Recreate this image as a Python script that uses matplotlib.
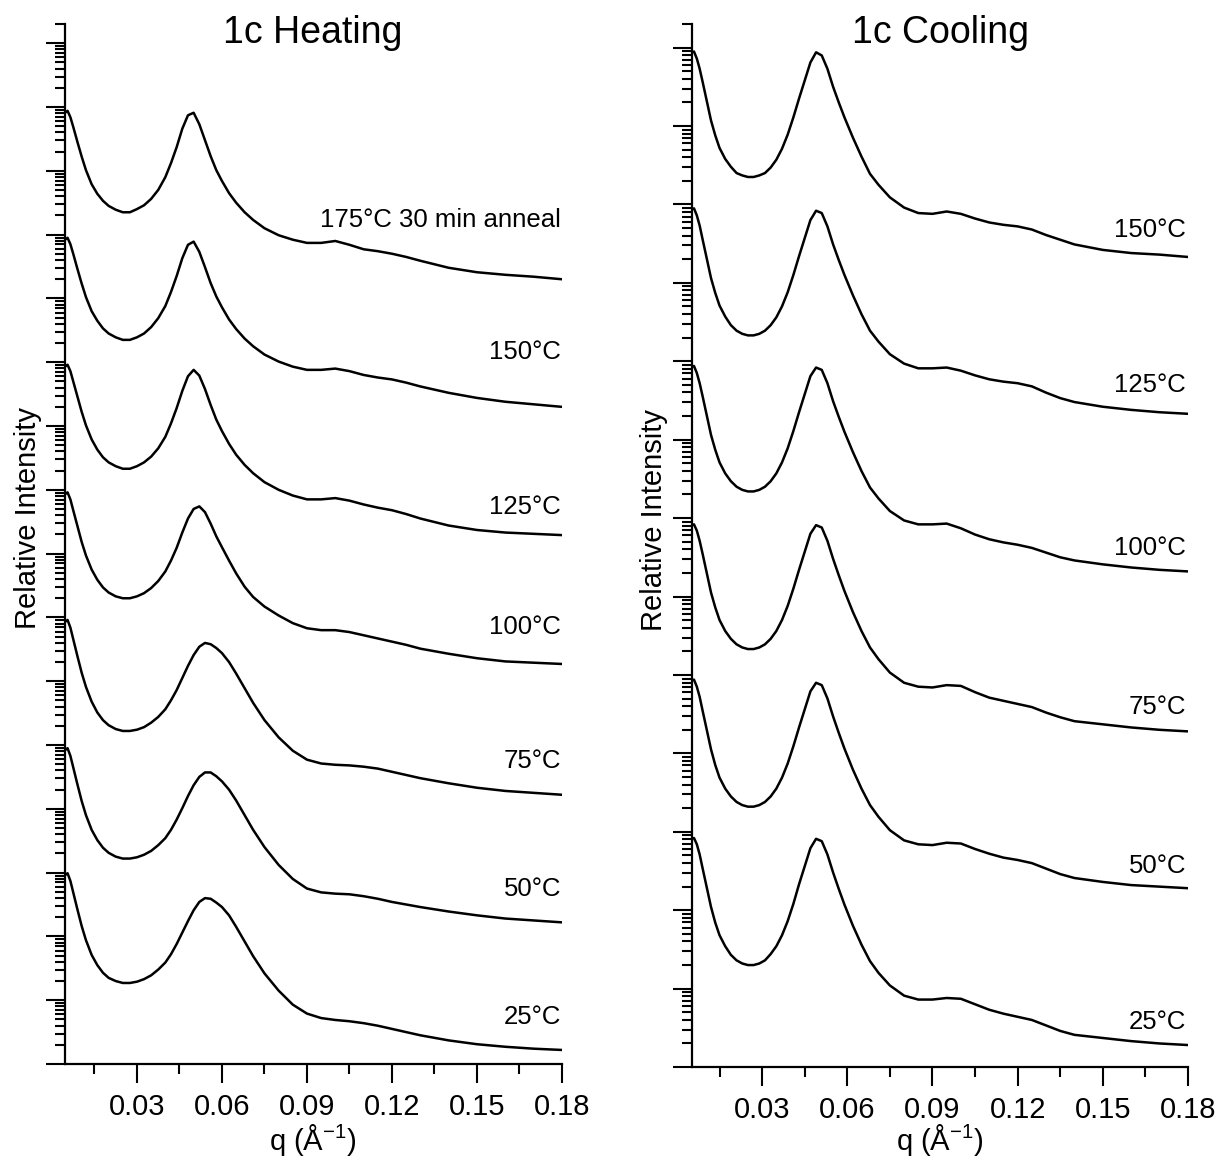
import matplotlib
matplotlib.use("Agg")
import matplotlib.pyplot as plt
from matplotlib.ticker import LogLocator, NullFormatter, FixedLocator
import numpy as np

plt.rcParams['font.family'] = ['Liberation Sans', 'DejaVu Sans']
plt.rcParams['mathtext.default'] = 'regular'

# ---- Heating series: q grid (1/Angstrom) and log10 relative intensity ----
q_heat = [0.0046, 0.0055, 0.0065, 0.0075, 0.009, 0.0105, 0.012, 0.014, 0.016, 0.018,
          0.020, 0.0225, 0.025, 0.0275, 0.030, 0.0325, 0.035, 0.0375, 0.040, 0.042,
          0.044, 0.046, 0.048, 0.050, 0.052, 0.054, 0.056, 0.058, 0.060, 0.0625,
          0.065, 0.068, 0.071, 0.075, 0.080, 0.085, 0.090, 0.095, 0.100, 0.105,
          0.110, 0.115, 0.120, 0.125, 0.130, 0.140, 0.150, 0.160, 0.170, 0.180]

heat_anneal = [2.91, 2.94, 2.84, 2.69, 2.45, 2.22, 2.01, 1.79, 1.64, 1.53,
               1.45, 1.39, 1.35, 1.35, 1.40, 1.46, 1.56, 1.70, 1.90, 2.12,
               2.37, 2.66, 2.87, 2.91, 2.73, 2.48, 2.23, 2.01, 1.84, 1.65,
               1.50, 1.35, 1.23, 1.10, 0.99, 0.92, 0.87, 0.87, 0.90, 0.84,
               0.77, 0.74, 0.70, 0.65, 0.59, 0.48, 0.41, 0.37, 0.34, 0.30]
heat_150 = [2.92, 2.95, 2.85, 2.70, 2.46, 2.23, 2.02, 1.80, 1.65, 1.53,
            1.45, 1.39, 1.35, 1.35, 1.39, 1.45, 1.55, 1.69, 1.88, 2.10,
            2.35, 2.63, 2.84, 2.89, 2.73, 2.49, 2.24, 2.03, 1.86, 1.67,
            1.52, 1.37, 1.25, 1.12, 1.01, 0.93, 0.88, 0.88, 0.90, 0.86,
            0.80, 0.76, 0.73, 0.68, 0.62, 0.52, 0.44, 0.38, 0.34, 0.30]
heat_125 = [2.93, 2.96, 2.86, 2.70, 2.46, 2.22, 2.01, 1.79, 1.63, 1.51,
            1.43, 1.37, 1.33, 1.33, 1.37, 1.43, 1.52, 1.65, 1.83, 2.04,
            2.28, 2.55, 2.78, 2.88, 2.79, 2.58, 2.33, 2.10, 1.92, 1.72,
            1.55, 1.39, 1.26, 1.12, 1.00, 0.91, 0.85, 0.85, 0.87, 0.83,
            0.77, 0.72, 0.68, 0.62, 0.55, 0.44, 0.37, 0.33, 0.31, 0.29]
heat_100 = [2.93, 2.96, 2.85, 2.68, 2.43, 2.18, 1.97, 1.75, 1.59, 1.47,
            1.39, 1.33, 1.30, 1.30, 1.33, 1.38, 1.46, 1.57, 1.72, 1.89,
            2.09, 2.33, 2.55, 2.70, 2.74, 2.65, 2.47, 2.27, 2.10, 1.89,
            1.69, 1.48, 1.32, 1.17, 1.03, 0.91, 0.83, 0.80, 0.80, 0.77,
            0.72, 0.67, 0.62, 0.57, 0.51, 0.43, 0.36, 0.31, 0.29, 0.27]
heat_75 = [2.93, 2.96, 2.84, 2.66, 2.39, 2.13, 1.91, 1.68, 1.51, 1.39,
           1.31, 1.25, 1.22, 1.22, 1.24, 1.28, 1.35, 1.44, 1.56, 1.70,
           1.86, 2.05, 2.24, 2.41, 2.54, 2.60, 2.58, 2.52, 2.44, 2.30,
           2.12, 1.89, 1.66, 1.39, 1.12, 0.91, 0.77, 0.71, 0.69, 0.68,
           0.66, 0.63, 0.58, 0.53, 0.48, 0.40, 0.33, 0.28, 0.25, 0.22]
heat_50 = [2.92, 2.95, 2.83, 2.65, 2.38, 2.12, 1.90, 1.67, 1.51, 1.39,
           1.31, 1.25, 1.22, 1.22, 1.24, 1.28, 1.34, 1.43, 1.54, 1.67,
           1.83, 2.01, 2.20, 2.37, 2.50, 2.57, 2.57, 2.51, 2.43, 2.30,
           2.13, 1.90, 1.67, 1.40, 1.12, 0.90, 0.75, 0.69, 0.67, 0.66,
           0.63, 0.59, 0.54, 0.50, 0.46, 0.39, 0.33, 0.28, 0.25, 0.22]
heat_25 = [2.96, 2.99, 2.87, 2.69, 2.42, 2.16, 1.94, 1.71, 1.55, 1.43,
           1.35, 1.30, 1.27, 1.27, 1.29, 1.33, 1.39, 1.48, 1.59, 1.72,
           1.88, 2.06, 2.24, 2.41, 2.54, 2.60, 2.59, 2.53, 2.46, 2.33,
           2.15, 1.92, 1.69, 1.42, 1.15, 0.93, 0.79, 0.72, 0.69, 0.67,
           0.64, 0.60, 0.55, 0.50, 0.45, 0.37, 0.31, 0.27, 0.24, 0.22]

heat_labels = ["175°C 30 min anneal", "150°C", "125°C", "100°C", "75°C", "50°C", "25°C"]
heat_traces = [heat_anneal, heat_150, heat_125, heat_100, heat_75, heat_50, heat_25]
heat_shift = [12, 10, 8, 6, 4, 2, 0]   # decades added to stack the traces

# ---- Cooling series ----
q_cool = [0.0053, 0.006, 0.007, 0.008, 0.009, 0.0105, 0.012, 0.0135, 0.015, 0.017,
          0.019, 0.021, 0.023, 0.025, 0.027, 0.029, 0.031, 0.033, 0.035, 0.037,
          0.039, 0.041, 0.043, 0.045, 0.047, 0.049, 0.051, 0.053, 0.055, 0.057,
          0.059, 0.062, 0.065, 0.068, 0.071, 0.075, 0.080, 0.085, 0.090, 0.095,
          0.100, 0.105, 0.110, 0.115, 0.120, 0.125, 0.130, 0.135, 0.140, 0.150,
          0.160, 0.170, 0.180]

cool_150 = [2.94, 2.95, 2.86, 2.73, 2.57, 2.32, 2.07, 1.88, 1.72, 1.58,
            1.48, 1.40, 1.37, 1.35, 1.35, 1.37, 1.40, 1.47, 1.57, 1.71,
            1.89, 2.11, 2.35, 2.58, 2.81, 2.94, 2.90, 2.73, 2.50, 2.30,
            2.11, 1.85, 1.61, 1.39, 1.25, 1.09, 0.96, 0.89, 0.88, 0.91,
            0.88, 0.82, 0.77, 0.74, 0.72, 0.68, 0.61, 0.55, 0.49, 0.42,
            0.38, 0.36, 0.33]
cool_125 = [2.94, 2.95, 2.86, 2.73, 2.56, 2.31, 2.06, 1.87, 1.71, 1.57,
            1.46, 1.39, 1.35, 1.33, 1.33, 1.35, 1.39, 1.46, 1.56, 1.70,
            1.88, 2.10, 2.34, 2.57, 2.80, 2.92, 2.89, 2.72, 2.49, 2.29,
            2.10, 1.84, 1.60, 1.39, 1.25, 1.09, 0.97, 0.91, 0.91, 0.92,
            0.88, 0.82, 0.77, 0.74, 0.72, 0.68, 0.60, 0.53, 0.48, 0.42,
            0.38, 0.35, 0.33]
cool_100 = [2.93, 2.94, 2.85, 2.72, 2.56, 2.31, 2.06, 1.87, 1.71, 1.57,
            1.47, 1.40, 1.36, 1.34, 1.34, 1.36, 1.40, 1.47, 1.57, 1.71,
            1.89, 2.11, 2.35, 2.58, 2.81, 2.92, 2.89, 2.72, 2.49, 2.29,
            2.10, 1.84, 1.60, 1.39, 1.25, 1.09, 0.97, 0.92, 0.92, 0.93,
            0.87, 0.79, 0.73, 0.69, 0.66, 0.62, 0.56, 0.50, 0.46, 0.41,
            0.37, 0.34, 0.32]
cool_75 = [2.91, 2.92, 2.84, 2.71, 2.55, 2.30, 2.05, 1.86, 1.70, 1.56,
           1.46, 1.39, 1.35, 1.33, 1.33, 1.35, 1.39, 1.46, 1.56, 1.70,
           1.88, 2.10, 2.34, 2.57, 2.80, 2.91, 2.88, 2.71, 2.48, 2.27,
           2.07, 1.80, 1.56, 1.35, 1.20, 1.03, 0.90, 0.85, 0.84, 0.87,
           0.86, 0.78, 0.71, 0.67, 0.63, 0.59, 0.52, 0.46, 0.41, 0.37,
           0.33, 0.30, 0.28]
cool_50 = [2.93, 2.94, 2.85, 2.72, 2.55, 2.30, 2.05, 1.85, 1.69, 1.55,
           1.45, 1.38, 1.34, 1.32, 1.32, 1.34, 1.38, 1.45, 1.55, 1.69,
           1.87, 2.09, 2.33, 2.56, 2.79, 2.90, 2.87, 2.70, 2.47, 2.26,
           2.06, 1.79, 1.55, 1.34, 1.19, 1.02, 0.89, 0.84, 0.83, 0.86,
           0.85, 0.78, 0.72, 0.67, 0.64, 0.60, 0.53, 0.46, 0.41, 0.36,
           0.32, 0.30, 0.28]
cool_25 = [2.91, 2.92, 2.84, 2.71, 2.54, 2.29, 2.04, 1.84, 1.68, 1.54,
           1.43, 1.36, 1.32, 1.30, 1.30, 1.32, 1.36, 1.44, 1.54, 1.68,
           1.86, 2.08, 2.33, 2.56, 2.79, 2.91, 2.88, 2.71, 2.48, 2.27,
           2.07, 1.80, 1.56, 1.35, 1.20, 1.04, 0.91, 0.86, 0.86, 0.88,
           0.87, 0.80, 0.73, 0.68, 0.64, 0.60, 0.53, 0.46, 0.41, 0.37,
           0.33, 0.30, 0.28]

cool_labels = ["150°C", "125°C", "100°C", "75°C", "50°C", "25°C"]
cool_traces = [cool_150, cool_125, cool_100, cool_75, cool_50, cool_25]
cool_shift = [10, 8, 6, 4, 2, 0]

# label heights (axes fraction) next to the right end of each trace
heat_label_y = [0.8115, 0.6846, 0.5356, 0.4202, 0.2913, 0.1683, 0.0452]
cool_label_y = [0.8025, 0.6539, 0.4976, 0.3452, 0.1927, 0.0431]

W, H = 1222, 1162
fig = plt.figure(figsize=(W / 100, H / 100), dpi=100)

ax_h = fig.add_axes([65 / W, 1 - 1064 / H, 497 / W, 1040 / H])
ax_c = fig.add_axes([692 / W, 1 - 1067 / H, 496 / W, 1043 / H])


def style(ax, xmin, ytop):
    ax.set_yscale('log')
    ax.set_xlim(xmin, 0.18)
    ax.set_ylim(1, ytop)
    for s in ('top', 'right'):
        ax.spines[s].set_visible(False)
    for s in ('left', 'bottom'):
        ax.spines[s].set_linewidth(1.6)
    ax.xaxis.set_major_locator(FixedLocator([0.03, 0.06, 0.09, 0.12, 0.15, 0.18]))
    ax.xaxis.set_minor_locator(FixedLocator([0.015, 0.045, 0.075, 0.105, 0.135, 0.165]))
    ax.set_xticklabels(["0.03", "0.06", "0.09", "0.12", "0.15", "0.18"])
    ax.yaxis.set_major_locator(LogLocator(base=10, numticks=40))
    ax.yaxis.set_minor_locator(LogLocator(base=10, subs=np.arange(2, 10), numticks=40))
    ax.yaxis.set_major_formatter(NullFormatter())
    ax.yaxis.set_minor_formatter(NullFormatter())
    ax.tick_params(which='major', direction='out', length=13.7, width=1.5,
                   labelsize=21, pad=7)
    ax.tick_params(which='minor', direction='out', length=7.2, width=1.5)


style(ax_h, 0.0046, 2e16)
style(ax_c, 0.0053, 2e13)

for trace, shift in zip(heat_traces, heat_shift):
    ax_h.plot(q_heat, 10 ** (np.array(trace) + shift), color='black', lw=1.8,
              solid_joinstyle='round')
for trace, shift in zip(cool_traces, cool_shift):
    ax_c.plot(q_cool, 10 ** (np.array(trace) + shift), color='black', lw=1.8,
              solid_joinstyle='round')

for lab, y in zip(heat_labels, heat_label_y):
    ax_h.text(0.998, y, lab, transform=ax_h.transAxes, ha='right', va='center', fontsize=18.5)
for lab, y in zip(cool_labels, cool_label_y):
    ax_c.text(0.996, y, lab, transform=ax_c.transAxes, ha='right', va='center', fontsize=18.5)

fig.text(313 / W, 1 - 33 / H, "1c Heating", ha='center', va='center', fontsize=27)
fig.text(940 / W, 1 - 33 / H, "1c Cooling", ha='center', va='center', fontsize=27)
fig.text(313 / W, 1 - 1140 / H, "q (Å$^{-1}$)", ha='center', va='center', fontsize=21)
fig.text(940 / W, 1 - 1140 / H, "q (Å$^{-1}$)", ha='center', va='center', fontsize=21)
fig.text(28 / W, 1 - 518 / H, "Relative Intensity", rotation=90, ha='center', va='center', fontsize=21)
fig.text(654 / W, 1 - 520 / H, "Relative Intensity", rotation=90, ha='center', va='center', fontsize=21)

fig.savefig("out.png", dpi=100)
